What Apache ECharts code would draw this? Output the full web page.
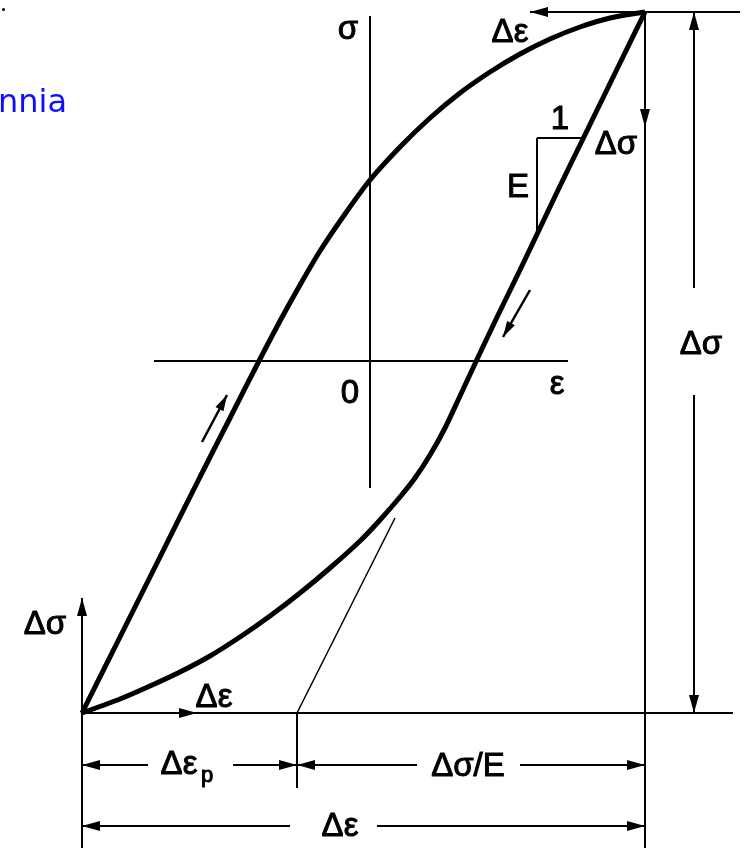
<!DOCTYPE html>
<html>
<head>
<meta charset="utf-8">
<script src="https://cdn.jsdelivr.net/npm/echarts@6/dist/echarts.min.js"></script>
<style>
  html, body { margin: 0; padding: 0; background: #fff; }
  #chart { width: 746px; height: 848px; }
</style>
</head>
<body>
<div id="chart"></div>
<script>
// Cyclic stress–strain hysteresis loop, drawn in chart units (ε across, σ up).

// Ascending branch: from the compressive tip up to the tensile tip
const loadingBranch = [
  [-28.8, -35.2], [-25.0, -27.6], [-21.0, -19.6], [-17.0, -11.6], [-14.0, -5.7],
  [-11.1, 0.0], [-9.0, 4.0], [-7.0, 7.6], [-5.0, 11.0], [-2.5, 14.7], [0.0, 18.1],
  [3.0, 21.4], [6.0, 24.3], [9.0, 26.8], [12.0, 28.9], [15.0, 30.7], [18.0, 32.2],
  [21.0, 33.4], [24.0, 34.3], [27.5, 34.9]
];

// Descending branch: from the tensile tip back down to the compressive tip
const unloadingBranch = [
  [27.5, 34.9], [25.0, 29.8], [23.0, 25.7], [21.0, 21.6], [19.0, 17.5], [17.0, 13.3],
  [15.0, 9.1], [13.0, 5.0], [11.0, 0.8], [9.0, -3.5], [7.5, -6.7], [6.0, -9.4],
  [4.5, -11.7], [3.0, -13.6], [1.0, -15.9], [-1.0, -18.0], [-4.0, -20.7], [-7.0, -23.2],
  [-10.0, -25.5], [-13.0, -27.6], [-16.0, -29.5], [-19.0, -31.1], [-22.0, -32.5],
  [-25.0, -33.8], [-28.8, -35.2]
];

// Loop extremes
const strainTips = [-28.8, 27.5];
const stressTips = [-35.2, 34.9];

// Elastic guide line: from the plastic-strain point up towards the loop
const plasticStrainEnd = -7.3;
const elasticGuideTop = [2.5, -15.7];

// Reference axes through the origin
const strainAxisSpan = [-21.6, 19.8];
const stressAxisSpan = [-12.7, 34.5];

// Slope triangle on the elastic part of the descending branch
const slopeTriangle = [[16.7, 12.6], [16.7, 22.3], [21.3, 22.3]];

// Loading-direction arrows beside the branches
const directionArrows = [
  [[-16.8, -8.1], [-14.3, -3.4]],
  [[16.0, 7.1], [13.3, 2.4]]
];

// Annotation texts and where they sit
const labelTexts = ['σ', 'ε', '0', 'Δε', '1', 'E', 'Δσ', 'Δσ', 'Δσ', 'Δε', 'Δε', 'Δσ/E', 'Δε'];
const labelCoords = [
  [-2.2, 33.1], [18.7, -2.4], [-2.0, -3.3], [14.0, 32.8], [19.0, 24.1], [14.8, 17.3],
  [24.6, 21.6], [33.1, 1.6], [-32.5, -26.4], [-15.6, -33.7], [-19.1, -40.4], [9.8, -40.6],
  [-3.0, -46.6]
];
const subscriptTexts = ['p'];
const subscriptCoords = [[-16.3, -41.5]];

// ---- drawing ----
const [eMin, eMax] = strainTips;
const [sMin, sMax] = stressTips;
const dimRow1 = -40.4;   // Δεp and Δσ/E dimension row
const dimRow2 = -46.5;   // total Δε dimension row
const rightDimX = 32.4;  // total Δσ dimension line

const ARROW = { symbol: 'triangle', symbolSize: [10, 18], symbolOffset: [0, '50%'] };
function seg(a, b, startArrow, endArrow, size) {
  const s = { coord: a, symbol: 'none' };
  const e = { coord: b, symbol: 'none' };
  if (startArrow) Object.assign(s, ARROW, size ? { symbolSize: size } : {});
  if (endArrow) Object.assign(e, ARROW, size ? { symbolSize: size } : {});
  return [s, e];
}

const frameLines = [
  // horizontal through the compressive tip, vertical through the tensile tip
  seg([eMin, sMin], [36.3, sMin]),
  seg([eMax, sMax], [eMax, -48.7]),
  // Δε arrow along the top
  seg([16.0, sMax], [37.0, sMax], true, false),
  // Δσ arrow pointing down from the tensile tip
  seg([eMax, sMax], [eMax, 23.4], false, true),
  // Δσ arrow up from the compressive tip
  seg([eMin, -48.7], [eMin, -23.7], false, true),
  // Δε arrow along the bottom
  seg([eMin, sMin], [-17.3, sMin], false, true),
  // total Δσ dimension (broken around its label)
  seg([rightDimX, 7.3], [rightDimX, sMax], false, true),
  seg([rightDimX, -3.4], [rightDimX, sMin], false, true),
  // plastic strain tick
  seg([plasticStrainEnd, sMin], [plasticStrainEnd, -42.7]),
  // Δεp dimension
  seg([eMin, dimRow1], [-22.2, dimRow1], true, false),
  seg([-13.7, dimRow1], [plasticStrainEnd, dimRow1], false, true),
  // Δσ/E dimension
  seg([plasticStrainEnd, dimRow1], [4.7, dimRow1], true, false),
  seg([15.0, dimRow1], [eMax, dimRow1], false, true),
  // total Δε dimension
  seg([eMin, dimRow2], [-8.0, dimRow2], true, false),
  seg([0.7, dimRow2], [eMax, dimRow2], false, true),
  // reference axes
  seg([strainAxisSpan[0], 0], [strainAxisSpan[1], 0]),
  seg([0, stressAxisSpan[0]], [0, stressAxisSpan[1]]),
  // slope triangle
  seg(slopeTriangle[0], slopeTriangle[1]),
  seg(slopeTriangle[1], slopeTriangle[2])
];

const arrowLines = directionArrows.map(p => seg(p[0], p[1], false, true, [9, 16]));

const markBase = {
  silent: true,
  animation: false,
  label: { show: false },
  emphasis: { disabled: true }
};

const labelFont = 'Liberation Sans, Arial, sans-serif';
const labelInk = { color: '#000', opacity: 1, textBorderColor: '#000', textBorderWidth: 1 };

const chart = echarts.init(document.getElementById('chart'), null, { renderer: 'canvas' });
chart.setOption({
  backgroundColor: '#ffffff',
  animation: false,
  title: {
    text: 'nnia',
    left: -7,
    top: 83,
    textStyle: { color: '#0f0fff', fontSize: 32, fontWeight: 'normal', fontFamily: 'DejaVu Sans' }
  },
  graphic: [{ type: 'circle', left: 2, top: 8, shape: { r: 1.5 }, style: { fill: '#000' } }],
  grid: { left: 0, right: 0, top: 0, bottom: 0 },
  xAxis: { type: 'value', min: -37.0, max: 37.6, show: false },
  yAxis: { type: 'value', min: -48.7, max: 36.1, show: false },
  series: [
    {
      type: 'line', data: loadingBranch, smooth: 0.3, symbol: 'none',
      lineStyle: { color: '#000', width: 5 }, silent: true
    },
    {
      type: 'line', data: unloadingBranch, smooth: 0.3, symbol: 'none',
      lineStyle: { color: '#000', width: 5 }, silent: true
    },
    {
      type: 'line', data: [], symbol: 'none',
      markLine: Object.assign({}, markBase, {
        symbol: 'none',
        lineStyle: { color: '#000', width: 2, type: 'solid' },
        itemStyle: { color: '#000' },
        data: frameLines
      })
    },
    {
      type: 'line', data: [], symbol: 'none',
      markLine: Object.assign({}, markBase, {
        symbol: 'none',
        lineStyle: { color: '#000', width: 2.5, type: 'solid' },
        itemStyle: { color: '#000' },
        data: arrowLines
      })
    },
    {
      type: 'line', data: [], symbol: 'none',
      markLine: Object.assign({}, markBase, {
        symbol: 'none',
        lineStyle: { color: '#000', width: 1.5, type: 'solid' },
        data: [seg([plasticStrainEnd, sMin], elasticGuideTop)]
      })
    },
    {
      type: 'scatter', symbolSize: 0, silent: true,
      itemStyle: { color: '#000', opacity: 1 },
      data: labelCoords.map((c, i) => ({ value: c, name: labelTexts[i] })),
      label: Object.assign({
        show: true, position: 'inside', formatter: '{b}',
        fontSize: 33, fontFamily: labelFont
      }, labelInk)
    },
    {
      type: 'scatter', symbolSize: 0, silent: true,
      itemStyle: { color: '#000', opacity: 1 },
      data: subscriptCoords.map((c, i) => ({ value: c, name: subscriptTexts[i] })),
      label: Object.assign({
        show: true, position: 'inside', formatter: '{b}',
        fontSize: 22, fontFamily: labelFont
      }, labelInk)
    }
  ]
});
</script>
</body>
</html>
